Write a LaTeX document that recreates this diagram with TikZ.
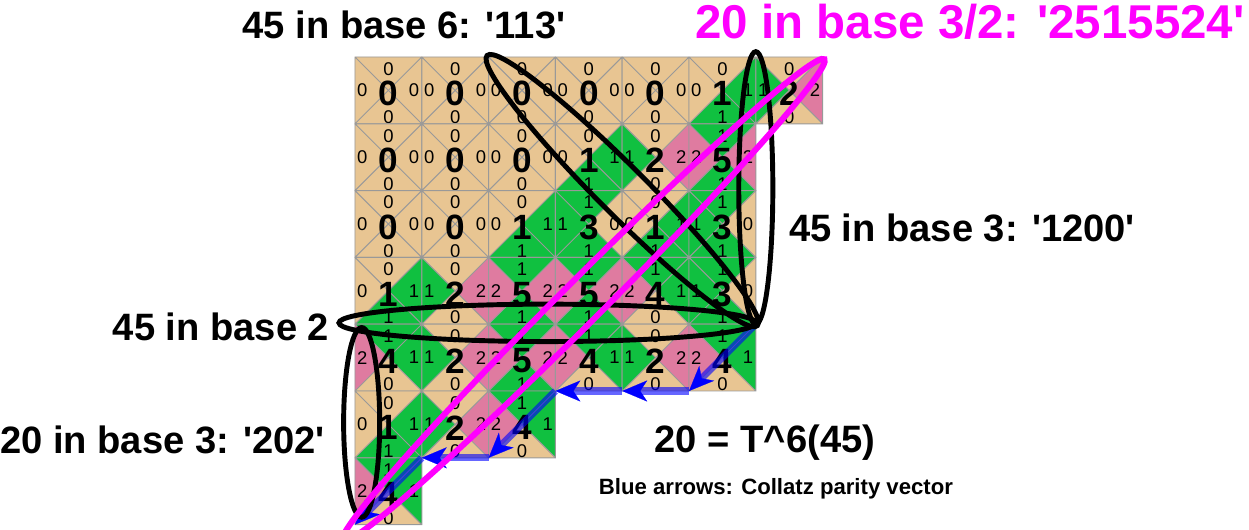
\documentclass[tikz,border=0pt]{standalone}
\usepackage{fontspec}
\setmainfont{Liberation Sans}
\usepackage{tikz}
\usetikzlibrary{arrows.meta, positioning, calc}
\usepackage{xcolor}
\definecolor{cell0}{HTML}{E8C592}
\definecolor{cell1}{HTML}{10C040}
\definecolor{cell2}{HTML}{DF7BA0}
\definecolor{gridgray}{HTML}{999999}
\definecolor{ringpink}{HTML}{FF00FF}

% one tile: column, row, digit d with d = 2*left + bottom = 3*top + right
\newcommand{\wangtile}[3]{%
  \pgfmathtruncatemacro{\eL}{int(#3/2)}%
  \pgfmathtruncatemacro{\eB}{mod(#3,2)}%
  \pgfmathtruncatemacro{\eT}{int(#3/3)}%
  \pgfmathtruncatemacro{\eR}{mod(#3,3)}%
  \fill[fill=cell\eT] (#1,#2) -- ++(1,0) -- ++(-.5,.5) -- cycle;
  \fill[fill=cell\eR] (#1+1,#2) -- ++(0,1) -- ++(-.5,-.5) -- cycle;
  \fill[fill=cell\eB] (#1+1,#2+1) -- ++(-1,0) -- ++(.5,-.5) -- cycle;
  \fill[fill=cell\eL] (#1,#2+1) -- ++(0,-1) -- ++(.5,.5) -- cycle;
  \draw[gridline] (#1,#2) rectangle ++(1,1) (#1,#2) -- ++(1,1) (#1+1,#2) -- ++(-1,1);
  \node[small digit] (t-#2-#1) at (#1+.5,#2+.18) {\eT};
  \node[small digit] (r-#2-#1) at (#1+.885,#2+.5) {\eR};
  \node[small digit] (b-#2-#1) at (#1+.5,#2+.9) {\eB};
  \node[small digit] (l-#2-#1) at (#1+.11,#2+.5) {\eL};
  \node[big digit] (d-#2-#1) at (#1+.5,#2+.55) {#3};
}
\newcommand{\q}{\textquotesingle}

\begin{document}
\begin{tikzpicture}[x=1.336cm, y=-1.336cm,
    gridline/.style={draw=gridgray, line width=0.55pt},
    small digit/.style={font=\fontsize{10.5}{12}\selectfont, inner sep=0pt},
    big digit/.style={font=\fontsize{20}{24}\selectfont\bfseries, inner sep=0pt},
    caption/.style={font=\fontsize{21.7}{26}\selectfont\bfseries, inner sep=0pt},
    ring/.style={draw=black, line width=2.8pt},
    parity band/.style={line width=4pt, draw=blue, draw opacity=0.6, shorten >=3mm},
    parity tip/.style={draw=blue, fill=blue, line width=0.1pt, -{Stealth[length=5mm, width=4.2mm, inset=1.4mm]}}]
  \useasboundingbox (-5.314,-0.853) rectangle (13.383,7.066);

  % tiles, row by row
  \foreach \row/\digits in {0/{0,0,0,0,0,1,2}, 1/{0,0,0,1,2,5}, 2/{0,0,1,3,1,3},
      3/{1,2,5,5,4,3}, 4/{4,2,5,4,2,4}, 5/{1,2,4}, 6/{4}} {
    \foreach \d [count=\col from 0] in \digits {
      \wangtile{\col}{\row}{\d}
    }
  }

  % parity vector
  \coordinate (p0) at (6,4);
  \coordinate (p1) at (5,5);
  \coordinate (p2) at (4,5);
  \coordinate (p3) at (3,5);
  \coordinate (p4) at (2,6);
  \coordinate (p5) at (1,6);
  \coordinate (p6) at (0,7);
  \foreach \a/\b in {p0/p1, p1/p2, p2/p3, p3/p4, p4/p5, p5/p6} {
    \draw[parity band] (\a) -- (\b);
    \draw[parity tip] ($(\a)!0.97!(\b)$) -- (\b);
  }

  % the readings
  \draw[ring, rotate around={-45:(4,2)}] (4,2) ellipse [x radius=2.86, y radius=0.36];
  \draw[ring] (6,1.96) ellipse [x radius=0.255, y radius=2.04];
  \draw[ring] (2.88,3.98) ellipse [x radius=3.12, y radius=0.28];
  \draw[ring] (0.1,5.47) ellipse [x radius=0.27, y radius=1.42];
  \draw[ring, draw=ringpink, line width=3.4pt, rotate around={45:(3.42,3.64)}] (3.42,3.64) ellipse [x radius=5.1, y radius=0.31];

  \node[caption] (base6) at (0.734,-0.479) {45 in base 6: \q113\q};
  \node[caption, ringpink, font=\fontsize{27}{32}\selectfont\bfseries] (base32) at (9.207,-0.524) {20 in base 3/2: \q2515524\q};
  \node[caption] (base3) at (9.087,2.56) {45 in base 3: \q1200\q};
  \node[caption] (base2) at (-2.006,4.042) {45 in base 2};
  \node[caption] (base3b) at (-2.88,5.734) {20 in base 3: \q202\q};
  \node[caption] (orbit) at (6.138,5.778) {20 = T\textasciicircum6(45)};
  \node[caption, font=\fontsize{12.6}{15}\selectfont\bfseries] (legend) at (6.302,6.467) {Blue arrows: Collatz parity vector};
\end{tikzpicture}
\end{document}
